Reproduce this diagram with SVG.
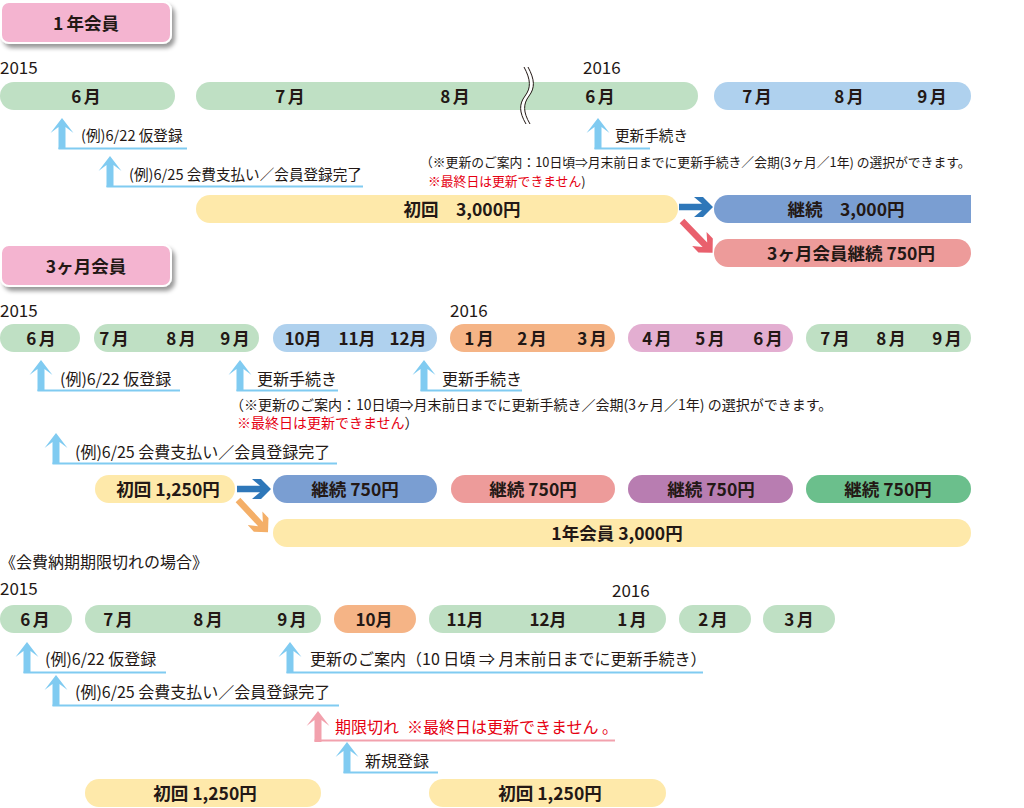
<svg xmlns="http://www.w3.org/2000/svg" xmlns:xlink="http://www.w3.org/1999/xlink" width="1024" height="808" viewBox="0 0 1024 808">
<style>
text{font-family:"Noto Sans CJK JP","Noto Sans",sans-serif;fill:#231815}
.yr{font-size:17px}
.m{font-size:17px;font-weight:bold;text-anchor:middle}
.t{font-size:17.5px;font-weight:bold;text-anchor:middle}
.c1{font-size:14.6px}
.c2{font-size:16px}
.n1{font-size:12.8px}
.n2{font-size:14px}
.red{fill:#E60012}
.g{fill:#BFE0C4}.b{fill:#AFD1EE}.o{fill:#F5B486}.p{fill:#E3AED1}.y{fill:#FEE9AA}
.sb{fill:#7A9ED2}.sa{fill:#ED9B9A}.pu{fill:#B87DB1}.gr{fill:#6BBF8C}
.tab{fill:#F4B4D0;stroke:#fff;stroke-width:2}
.ul{fill:#80CBF1}.ulp{fill:#F2A1AD}
</style>
<defs>
<filter id="sh" x="-10%" y="-20%" width="125%" height="160%"><feDropShadow dx="3" dy="4" stdDeviation="2.2" flood-color="#000" flood-opacity="0.4"/></filter>
<path id="up" d="M0,0 L11.5,15 L3.5,9 L3.5,31 L-3.5,31 L-3.5,9 L-11.5,15 Z"/>
<path id="ra" d="M0,-3.2 L23,-3.2 L15,-10 L24,-10 L34,0 L24,10 L15,10 L23,3.2 L0,3.2 Z"/>
<path id="da" d="M0,-3.2 L33,-3.2 L25,-10 L34,-10 L44,0 L34,10 L25,10 L33,3.2 L0,3.2 Z"/>
</defs>

<!-- ===== Section 1 ===== -->
<g id="tab1"><rect class="tab" x="1" y="2" width="170" height="41" rx="8" filter="url(#sh)"/><text class="t" x="86" y="30">1<tspan dx="3">年会員</tspan></text></g>
<g id="years1"><text class="yr" x="0" y="74">2015</text><text class="yr" x="583" y="74">2016</text></g>
<g id="s1-jun"><rect class="g" x="0" y="82" width="175" height="28" rx="14"/><text class="m" x="86" y="102.5">6<tspan dx="2.5">月</tspan></text></g>
<g id="s1-jul-jun"><rect class="g" x="196" y="82" width="502" height="28" rx="14"/><text class="m" x="290" y="102.5">7<tspan dx="2.5">月</tspan></text><text class="m" x="455" y="102.5">8<tspan dx="2.5">月</tspan></text><text class="m" x="600" y="102.5">6<tspan dx="2.5">月</tspan></text>
<path d="M524,67 C531,80 531,88 525,96 C519,104 519,112 526,124 L530,124 C523,112 523,104 529,96 C535,88 535,80 528,67 Z" fill="#fff"/>
<path d="M524,67 C531,80 531,88 525,96 C519,104 519,112 526,124 M528,67 C535,80 535,88 529,96 C523,104 523,112 530,124" fill="none" stroke="#231815" stroke-width="1"/></g>
<g id="s1-jul-sep"><rect class="b" x="714" y="82" width="257" height="28" rx="14"/><text class="m" x="757" y="102.5">7<tspan dx="2.5">月</tspan></text><text class="m" x="849" y="102.5">8<tspan dx="2.5">月</tspan></text><text class="m" x="932" y="102.5">9<tspan dx="2.5">月</tspan></text></g>
<g id="s1-ev1"><text class="c1" x="81" y="141">(例)6/22 仮登録</text></g>
<g id="s1-ev2"><text class="c1" x="129" y="180">(例)6/25 会費支払い／会員登録完了</text></g>
<g id="s1-ev3"><text class="c1" x="615" y="141">更新手続き</text></g>
<g id="s1-note"><text class="n1" x="420" y="167">（※更新のご案内：10日頃⇒月末前日までに更新手続き／会期(3ヶ月／1年) の選択ができます。</text><text class="n1" x="428" y="186"><tspan class="red">※最終日は更新できません</tspan>)</text></g>
<g id="s1-fee"><rect class="y" x="196" y="195" width="482" height="28" rx="14"/><text class="t" x="462" y="215.5">初回　3,000円</text></g>
<g id="s1-cont"><path class="sb" d="M728,195 H971 V223 H728 A14,14 0 0 1 728,195 Z"/><text class="t" x="846" y="215.5">継続　3,000円</text></g>
<g id="s1-cont3"><rect class="sa" x="714" y="239" width="257" height="28" rx="14"/><text class="t" x="851" y="259.5">3ヶ月会員継続 750円</text></g>

<!-- ===== Section 2 ===== -->
<g id="tab2"><rect class="tab" x="1" y="245" width="170" height="41" rx="8" filter="url(#sh)"/><text class="t" x="86" y="273">3ヶ月会員</text></g>
<g id="years2"><text class="yr" x="0" y="317">2015</text><text class="yr" x="450" y="317">2016</text></g>
<g id="s2-jun"><rect class="g" x="0" y="324" width="80" height="28" rx="14"/><text class="m" x="41" y="344.5">6<tspan dx="2.5">月</tspan></text></g>
<g id="s2-q1"><rect class="g" x="94" y="324" width="165" height="28" rx="14"/><text class="m" x="114" y="344.5">7<tspan dx="2.5">月</tspan></text><text class="m" x="181" y="344.5">8<tspan dx="2.5">月</tspan></text><text class="m" x="235" y="344.5">9<tspan dx="2.5">月</tspan></text></g>
<g id="s2-q2"><rect class="b" x="273" y="324" width="164" height="28" rx="14"/><text class="m" x="303" y="344.5">10月</text><text class="m" x="357" y="344.5">11月</text><text class="m" x="408" y="344.5">12月</text></g>
<g id="s2-q3"><rect class="o" x="450" y="324" width="165" height="28" rx="14"/><text class="m" x="479" y="344.5">1<tspan dx="2.5">月</tspan></text><text class="m" x="532" y="344.5">2<tspan dx="2.5">月</tspan></text><text class="m" x="592" y="344.5">3<tspan dx="2.5">月</tspan></text></g>
<g id="s2-q4"><rect class="p" x="628" y="324" width="165" height="28" rx="14"/><text class="m" x="657" y="344.5">4<tspan dx="2.5">月</tspan></text><text class="m" x="710" y="344.5">5<tspan dx="2.5">月</tspan></text><text class="m" x="768" y="344.5">6<tspan dx="2.5">月</tspan></text></g>
<g id="s2-q5"><rect class="g" x="806" y="324" width="165" height="28" rx="14"/><text class="m" x="835" y="344.5">7<tspan dx="2.5">月</tspan></text><text class="m" x="891" y="344.5">8<tspan dx="2.5">月</tspan></text><text class="m" x="947" y="344.5">9<tspan dx="2.5">月</tspan></text></g>
<g id="s2-ev1"><text class="c2" x="60" y="385">(例)6/22 仮登録</text></g>
<g id="s2-ev2"><text class="c2" x="257" y="385">更新手続き</text></g>
<g id="s2-ev3"><text class="c2" x="442" y="385">更新手続き</text></g>
<g id="s2-note"><text class="n2" x="230" y="410">（※更新のご案内：10日頃⇒月末前日までに更新手続き／会期(3ヶ月／1年) の選択ができます。</text><text class="n2" x="237" y="428"><tspan class="red">※最終日は更新できません</tspan>）</text></g>
<g id="s2-ev4"><text class="c2" x="75" y="458">(例)6/25 会費支払い／会員登録完了</text></g>
<g id="s2-fee"><rect class="y" x="95" y="475" width="140" height="28" rx="14"/><text class="t" x="168" y="495.5">初回 1,250円</text></g>
<g id="s2-c1"><rect class="sb" x="273" y="475" width="164" height="28" rx="14"/><text class="t" x="355" y="495.5">継続 750円</text></g>
<g id="s2-c2"><rect class="sa" x="451" y="475" width="164" height="28" rx="14"/><text class="t" x="533" y="495.5">継続 750円</text></g>
<g id="s2-c3"><rect class="pu" x="628" y="475" width="165" height="28" rx="14"/><text class="t" x="711" y="495.5">継続 750円</text></g>
<g id="s2-c4"><rect class="gr" x="806" y="475" width="165" height="28" rx="14"/><text class="t" x="888" y="495.5">継続 750円</text></g>
<g id="s2-year"><rect class="y" x="273" y="519" width="698" height="28" rx="14"/><text class="t" x="617" y="539.5">1年会員 3,000円</text></g>

<!-- ===== Section 3 ===== -->
<g id="s3-title"><text class="c2" x="0" y="568">《会費納期期限切れの場合》</text></g>
<g id="years3"><text class="yr" x="0" y="595">2015</text><text class="yr" x="612" y="597">2016</text></g>
<g id="s3-jun"><rect class="g" x="0" y="605" width="72" height="28" rx="14"/><text class="m" x="35" y="625.5">6<tspan dx="2.5">月</tspan></text></g>
<g id="s3-jul-sep"><rect class="g" x="85" y="605" width="236" height="28" rx="14"/><text class="m" x="118" y="625.5">7<tspan dx="2.5">月</tspan></text><text class="m" x="208" y="625.5">8<tspan dx="2.5">月</tspan></text><text class="m" x="292" y="625.5">9<tspan dx="2.5">月</tspan></text></g>
<g id="s3-oct"><rect class="o" x="334" y="605" width="82" height="28" rx="14"/><text class="m" x="374" y="625.5">10月</text></g>
<g id="s3-nov-jan"><rect class="g" x="429" y="605" width="237" height="28" rx="14"/><text class="m" x="465" y="625.5">11月</text><text class="m" x="548" y="625.5">12月</text><text class="m" x="632" y="625.5">1<tspan dx="2.5">月</tspan></text></g>
<g id="s3-feb"><rect class="g" x="679" y="605" width="72" height="28" rx="14"/><text class="m" x="713" y="625.5">2<tspan dx="2.5">月</tspan></text></g>
<g id="s3-mar"><rect class="g" x="763" y="605" width="72" height="28" rx="14"/><text class="m" x="799" y="625.5">3<tspan dx="2.5">月</tspan></text></g>
<g id="s3-ev1"><text class="c2" x="45" y="665">(例)6/22 仮登録</text></g>
<g id="s3-ev2"><text class="c2" x="75" y="698">(例)6/25 会費支払い／会員登録完了</text></g>
<g id="s3-ev3"><text class="c2" x="310" y="665">更新のご案内（10 日頃 ⇒ 月末前日までに更新手続き）</text></g>
<g id="s3-ev4"><text class="c2 red" x="335" y="733">期限切れ<tspan dx="8">※最終日は更新できません 。</tspan></text></g>
<g id="s3-ev5"><text class="c2" x="365" y="767">新規登録</text></g>
<g id="s3-fee1"><rect class="y" x="85" y="779" width="236" height="28" rx="14"/><text class="t" x="205" y="799.5">初回 1,250円</text></g>
<g id="s3-fee2"><rect class="y" x="429" y="779" width="237" height="28" rx="14"/><text class="t" x="550" y="799.5">初回 1,250円</text></g>

<!-- ===== Connectors ===== -->
<g id="connectors">
<g fill="#80CBF1">
<use xlink:href="#up" href="#up" x="62" y="118"/><rect class="ul" x="58.5" y="147.5" width="128.5" height="2"/>
<use xlink:href="#up" href="#up" x="110" y="156"/><rect class="ul" x="106.5" y="185.5" width="256.5" height="2"/>
<use xlink:href="#up" href="#up" x="598" y="118"/><rect class="ul" x="594.5" y="147.5" width="55.5" height="2"/>
<use xlink:href="#up" href="#up" x="41" y="360"/><rect class="ul" x="37.5" y="389.5" width="142.5" height="2"/>
<use xlink:href="#up" href="#up" x="240" y="360"/><rect class="ul" x="236.5" y="389.5" width="101.5" height="2"/>
<use xlink:href="#up" href="#up" x="424" y="360"/><rect class="ul" x="420.5" y="389.5" width="101.5" height="2"/>
<use xlink:href="#up" href="#up" x="56" y="433"/><rect class="ul" x="52.5" y="462.5" width="284.5" height="2"/>
<use xlink:href="#up" href="#up" x="27" y="642"/><rect class="ul" x="23.5" y="671.5" width="142.5" height="2"/>
<use xlink:href="#up" href="#up" x="56" y="675"/><rect class="ul" x="52.5" y="704.5" width="286.5" height="2"/>
<use xlink:href="#up" href="#up" x="290" y="642"/><rect class="ul" x="286.5" y="671.5" width="416.5" height="2"/>
<use xlink:href="#up" href="#up" x="347" y="742"/><rect class="ul" x="343.5" y="771.5" width="94.5" height="2"/>
</g>
<g fill="#F2A1AD"><use xlink:href="#up" href="#up" x="318" y="711"/><rect class="ulp" x="314.5" y="739.5" width="300.5" height="2"/></g>
<use xlink:href="#ra" href="#ra" fill="#2E77B9" transform="translate(679,207)"/>
<use xlink:href="#da" href="#da" fill="#E9606D" transform="translate(682,221) rotate(46)"/>
<use xlink:href="#ra" href="#ra" fill="#2E77B9" transform="translate(237,489)"/>
<use xlink:href="#da" href="#da" fill="#F4AF68" transform="translate(238,500) rotate(47)"/>
</g>
</svg>
